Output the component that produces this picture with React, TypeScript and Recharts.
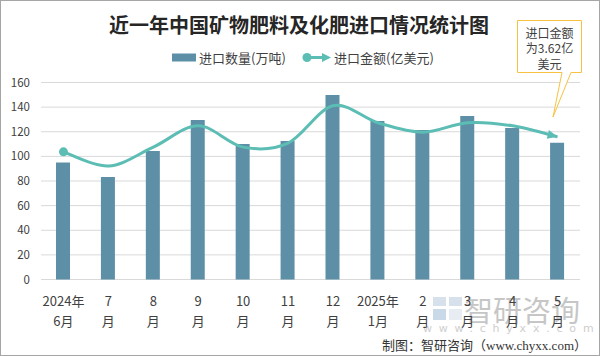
import React from "react";
import { ComposedChart, Bar, Line, XAxis, YAxis, CartesianGrid } from "recharts";

const categories = ["2024年6月", "2024年7月", "2024年8月", "2024年9月", "2024年10月", "2024年11月", "2024年12月", "2025年1月", "2025年2月", "2025年3月", "2025年4月", "2025年5月"];
const tickTop = ["2024年", "7", "8", "9", "10", "11", "12", "2025年", "2", "3", "4", "5"];
const tickBottom = ["6月", "月", "月", "月", "月", "月", "月", "1月", "月", "月", "月", "月"];
const importVolume = [95, 83.3, 104.4, 129.6, 110, 112.5, 149.9, 128.8, 121.5, 132.8, 123, 111];
const importValue = [3.24, 2.88, 3.36, 3.9, 3.36, 3.46, 4.41, 3.98, 3.74, 3.98, 3.9, 3.62];
const yTicks = [0, 20, 40, 60, 80, 100, 120, 140, 160];

const TITLE = "近一年中国矿物肥料及化肥进口情况统计图";
const LEGEND_BAR = "进口数量(万吨)";
const LEGEND_LINE = "进口金额(亿美元)";
const CALLOUT = ["进口金额", "为3.62亿", "美元"];
const FOOTER = "制图：智研咨询（www.chyxx.com）";

const data = categories.map((c, i) => ({ month: c, volume: importVolume[i], value: importValue[i] }));

const BAR_COLOR = "#5d8fa7";
const LINE_COLOR = "#5bbdb4";
const CJK = "'Noto Sans CJK SC', 'Noto Sans', sans-serif";

// Catmull-Rom style smoothing (like Excel smoothed line)
const smoothCurve: any = (context: any) => {
  let xs: number[] = [];
  let ys: number[] = [];
  return {
    areaStart() {},
    areaEnd() {},
    lineStart() {
      xs = [];
      ys = [];
    },
    lineEnd() {
      const n = xs.length;
      if (!n) return;
      context.moveTo(xs[0], ys[0]);
      for (let i = 0; i < n - 1; i++) {
        const a = Math.max(i - 1, 0);
        const d = Math.min(i + 2, n - 1);
        context.bezierCurveTo(
          xs[i] + (xs[i + 1] - xs[a]) / 6,
          ys[i] + (ys[i + 1] - ys[a]) / 6,
          xs[i + 1] - (xs[d] - xs[i]) / 6,
          ys[i + 1] - (ys[d] - ys[i]) / 6,
          xs[i + 1],
          ys[i + 1]
        );
      }
    },
    point(x: number, y: number) {
      xs.push(+x);
      ys.push(+y);
    },
  };
};

const LineDot = (props: any) => {
  const { cx, cy, index, points } = props;
  if (cx == null || cy == null) return <g key={`d-${index}`} />;
  if (index === 0) {
    return <circle key={`d-${index}`} cx={cx} cy={cy} r={4.5} fill={LINE_COLOR} />;
  }
  if (index === categories.length - 1) {
    let ang = 0.22;
    if (points && points[index - 1]) {
      const p = points[index - 1];
      ang = Math.atan2(cy - p.y, cx - p.x);
    }
    const L = 10;
    const W = 4.5;
    const bx = cx - L * Math.cos(ang);
    const by = cy - L * Math.sin(ang);
    const px = -Math.sin(ang) * W;
    const py = Math.cos(ang) * W;
    return (
      <polygon
        key={`d-${index}`}
        points={`${cx},${cy} ${bx + px},${by + py} ${bx - px},${by - py}`}
        fill={LINE_COLOR}
      />
    );
  }
  return <g key={`d-${index}`} />;
};

const XTick = (props: any) => {
  const { x, y, payload } = props;
  const i = categories.indexOf(payload.value);
  return (
    <g>
      <text x={x} y={y + 20.5} textAnchor="middle" dominantBaseline="central" fontSize={13} fill="#404040" fontFamily={CJK}>
        {tickTop[i]}
      </text>
      <text x={x} y={y + 40.5} textAnchor="middle" dominantBaseline="central" fontSize={13} fill="#404040" fontFamily={CJK}>
        {tickBottom[i]}
      </text>
    </g>
  );
};

export default function App() {
  return (
    <div style={{ position: "absolute", left: 0, top: 0, width: 600, height: 356, background: "#fff", overflow: "hidden" }}>
      {/* watermark */}
      <svg width={600} height={356} style={{ position: "absolute", left: 0, top: 0 }}>
        <g opacity={0.75}>
          <rect x={433} y={297} width={13} height={9} fill="#c9d7e6" />
          <rect x={449} y={297} width={13} height={9} fill="#c9d7e6" />
          <rect x={433} y={309} width={13} height={11} fill="#b9cde0" />
          <rect x={449} y={309} width={13} height={11} fill="#dfe7f0" />
          <text x={464} y={309} dominantBaseline="central" fontSize={29} fill="#b4b4b4" fontFamily={CJK}>
            智研咨询
          </text>
          <text x={423} y={328} dominantBaseline="central" fontSize={11} fill="#bdbdbd" letterSpacing={6.8} fontFamily="'DejaVu Sans', sans-serif">
            www.chyxx.com
          </text>
        </g>
      </svg>
      <div style={{ position: "absolute", left: 0, top: 0 }}>
        <ComposedChart width={600} height={356} data={data} margin={{ top: 82.5, right: 20, left: 0, bottom: 0 }}>
          <CartesianGrid horizontal vertical={false} stroke="#d9d9d9" />
          <XAxis
            dataKey="month"
            interval={0}
            height={76.5}
            axisLine={false}
            tickLine={false}
            tickSize={0}
            tickMargin={0}
            tick={<XTick />}
          />
          <YAxis
            width={41}
            domain={[0, 160]}
            ticks={yTicks}
            axisLine={false}
            tickLine={false}
            tickSize={0}
            tickMargin={11}
            tick={{ fontSize: 11.5, fill: "#404040", fontFamily: CJK }}
          />
          <YAxis yAxisId="right" orientation="right" hide domain={[0, 5]} />
          <Bar dataKey="volume" fill={BAR_COLOR} barSize={14} isAnimationActive={false} />
          <Line
            yAxisId="right"
            dataKey="value"
            type={smoothCurve}
            stroke={LINE_COLOR}
            strokeWidth={3}
            dot={LineDot}
            activeDot={false}
            isAnimationActive={false}
          />
        </ComposedChart>
      </div>
      {/* overlay texts */}
      <svg width={600} height={356} style={{ position: "absolute", left: 0, top: 0, pointerEvents: "none" }}>
        <text x={299} y={24} textAnchor="middle" dominantBaseline="central" fontSize={20} fontWeight={700} fill="#262626" fontFamily={CJK}>
          {TITLE}
        </text>
        <rect x={172} y={53.5} width={24} height={8} fill={BAR_COLOR} />
        <text x={199} y={57.5} dominantBaseline="central" fontSize={13} fill="#404040" fontFamily={CJK}>
          {LEGEND_BAR}
        </text>
        <line x1={307} y1={57.5} x2={324} y2={57.5} stroke={LINE_COLOR} strokeWidth={3} />
        <circle cx={307} cy={57.5} r={4.5} fill={LINE_COLOR} />
        <polygon points="331,57.5 322,53 322,62" fill={LINE_COLOR} />
        <text x={334} y={57.5} dominantBaseline="central" fontSize={13} fill="#404040" fontFamily={CJK}>
          {LEGEND_LINE}
        </text>
        <path d="M517.5,20.5 L581.5,20.5 L581.5,72.5 L571,72.5 L553,117 L562,72.5 L517.5,72.5 Z" fill="#fff" stroke="#f7c242" strokeWidth={1} />
        {CALLOUT.map((t, i) => (
          <text key={t} x={549.5} y={32 + i * 15.5} textAnchor="middle" dominantBaseline="central" fontSize={12} fill="#404040" fontFamily={CJK}>
            {t}
          </text>
        ))}
        <text x={587} y={345} textAnchor="end" dominantBaseline="central" fontSize={13} fill="#333" fontFamily="'Liberation Serif', 'Noto Sans CJK SC', serif">
          {FOOTER}
        </text>
        <rect x={0.5} y={0.5} width={599} height={355} fill="none" stroke="#a6a6a6" strokeWidth={1} />
      </svg>
    </div>
  );
}
